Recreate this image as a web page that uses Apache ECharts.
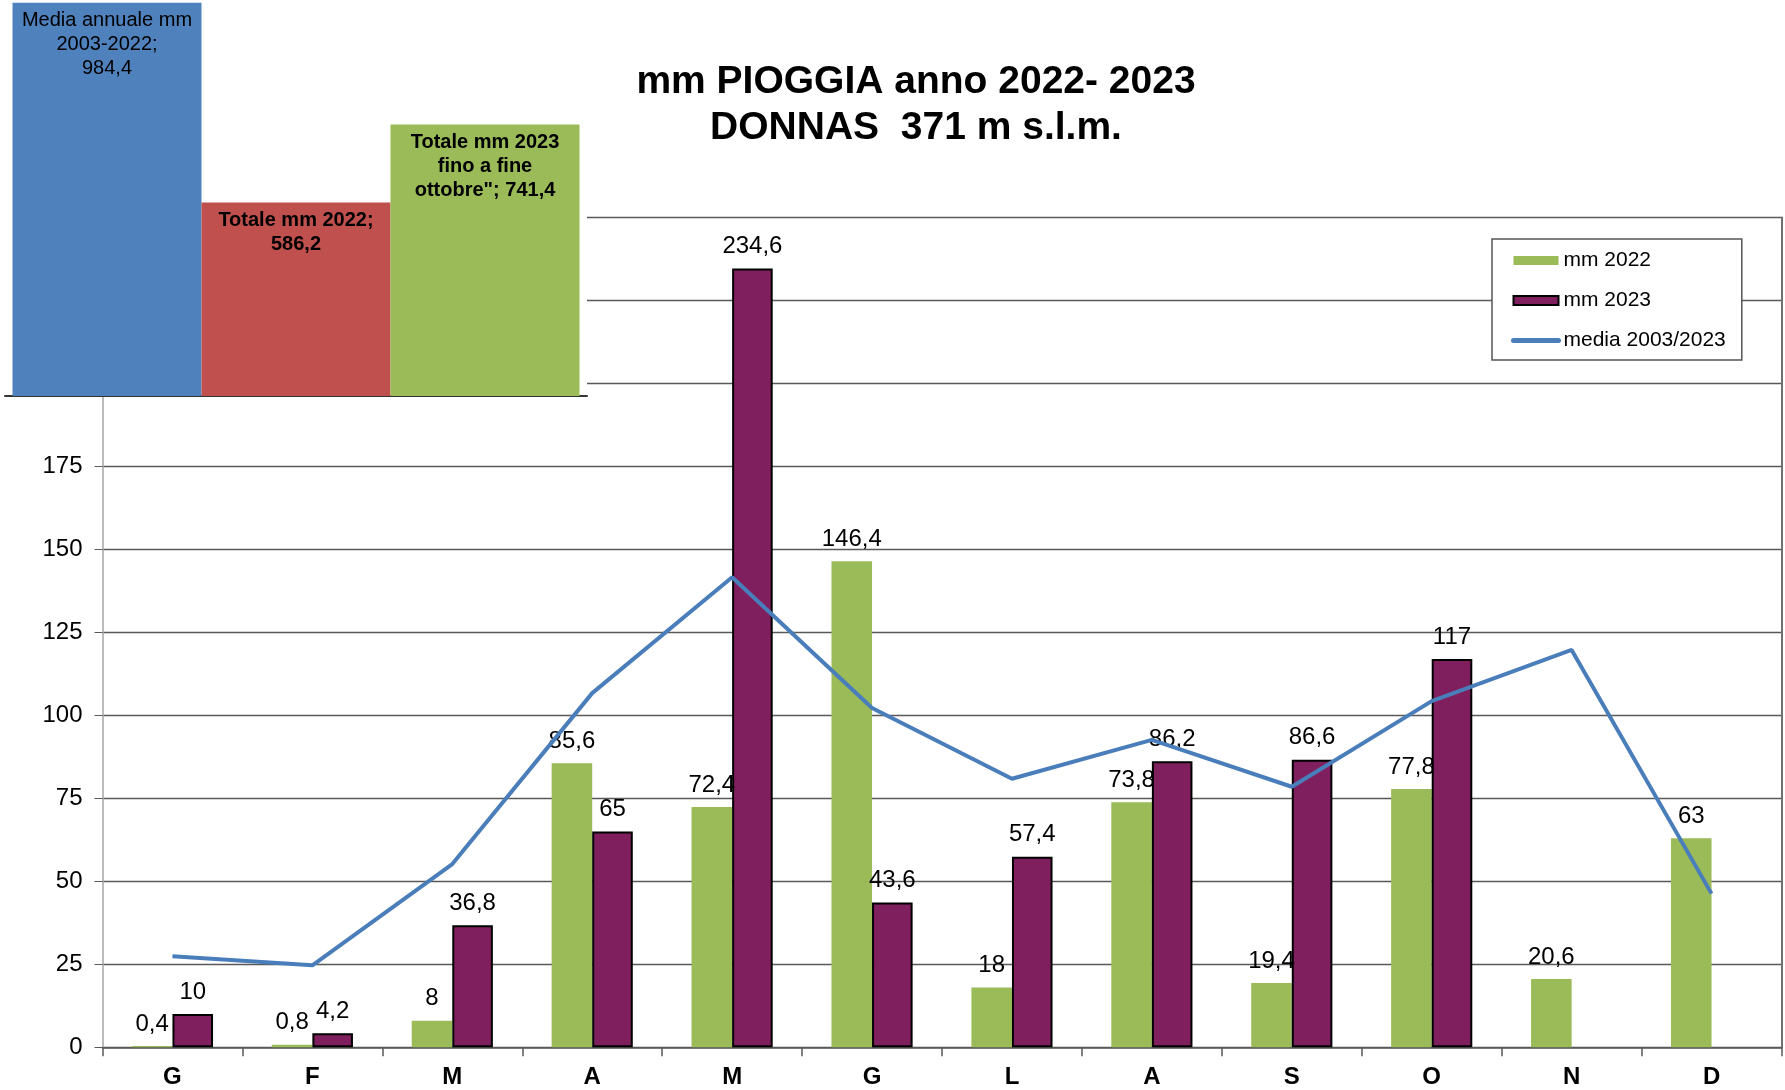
<!DOCTYPE html>
<html>
<head>
<meta charset="utf-8">
<script src="https://cdn.jsdelivr.net/npm/echarts@6/dist/echarts.min.js"></script>
<style>
  html, body { margin: 0; padding: 0; background: #fff; }
  #chart { width: 1785px; height: 1090px; }
</style>
</head>
<body>
<div id="chart"></div>
<script>
// months (Italian initials)
const months = ['G', 'F', 'M', 'A', 'M', 'G', 'L', 'A', 'S', 'O', 'N', 'D'];
const mm2022 = [0.4, 0.8, 8, 85.6, 72.4, 146.4, 18, 73.8, 19.4, 77.8, 20.6, 63];
const mm2023 = [10, 4.2, 36.8, 65, 234.6, 43.6, 57.4, 86.2, 86.6, 117, null, null];
const media = [27.4, 24.7, 55.2, 106.7, 141.6, 102.2, 80.9, 92.6, 78.5, 104.3, 119.7, 46.3];

// small inset: yearly totals
const totalNames = ['Media annuale mm\n2003-2022', 'Totale mm 2022', 'Totale mm 2023\nfino a fine\nottobre"'];
const totalValues = [984.4, 586.2, 741.4];
const totalSeps = [';\n', ';\n', '; '];
const totalColors = ['#4f81bd', '#c0504d', '#9bbb59'];
const totalBold = [false, true, true];

const FONT = '"Liberation Sans", Arial, sans-serif';
const comma = (v) => String(v).replace('.', ',');

const chart = echarts.init(document.getElementById('chart'));

const insetSeries = totalValues.map((v, i) => ({
  type: 'bar',
  name: totalNames[i],
  xAxisIndex: 1,
  yAxisIndex: 2,
  data: [v],
  barWidth: 189,
  barGap: '0%',
  z: 22,
  itemStyle: { color: totalColors[i] },
  label: {
    show: true,
    position: 'insideTop',
    distance: 6,
    color: '#000',
    fontFamily: FONT,
    fontSize: 20,
    lineHeight: 24,
    fontWeight: totalBold[i] ? 'bold' : 'normal',
    formatter: () => totalNames[i] + totalSeps[i] + comma(v),
  },
}));

chart.setOption({
  animation: false,
  backgroundColor: '#fff',
  textStyle: { fontFamily: FONT },
  title: {
    text: 'mm PIOGGIA anno 2022- 2023\nDONNAS  371 m s.l.m.',
    left: 911,
    top: 54,
    textAlign: 'center',
    textStyle: { fontSize: 39, fontWeight: 'bold', color: '#000', lineHeight: 46, fontFamily: FONT },
  },
  legend: {
    orient: 'vertical',
    left: 1492,
    top: 239,
    data: [
      { name: 'mm 2022', icon: 'rect' },
      { name: 'mm 2023', icon: 'rect' },
      { name: 'media 2003/2023', itemStyle: { opacity: 0 }, lineStyle: { width: 5, cap: 'round' } },
    ],
    backgroundColor: '#fff',
    borderColor: '#555',
    borderWidth: 1.5,
    padding: [11, 16, 9, 19],
    itemWidth: 45,
    itemHeight: 9,
    itemGap: 19,
    textStyle: { fontSize: 21, color: '#000', fontFamily: FONT },
    z: 30,
  },
  grid: [
    { left: 102.5, right: 3.5, top: 217.5, bottom: 42.7 },
    { left: 5, width: 582, top: 0, height: 396, show: true, backgroundColor: '#fff', borderWidth: 0, z: 20 },
  ],
  xAxis: [
    {
      type: 'category',
      gridIndex: 0,
      data: months,
      axisLine: { lineStyle: { color: '#595959', width: 1.5 } },
      axisTick: { show: true, length: 9, lineStyle: { color: '#595959', width: 1.5 } },
      axisLabel: { margin: 18, fontSize: 24, fontWeight: 'bold', color: '#000', fontFamily: FONT },
    },
    {
      type: 'category',
      gridIndex: 1,
      data: [''],
      z: 22,
      axisLine: { lineStyle: { color: '#333', width: 2 } },
      axisTick: { show: false },
      axisLabel: { show: false },
    },
  ],
  yAxis: [
    {
      type: 'value',
      gridIndex: 0,
      min: 0,
      max: 250,
      interval: 25,
      axisLine: { show: true, lineStyle: { color: '#a6a6a6', width: 1.5 } },
      axisTick: { show: true, length: 8, lineStyle: { color: '#595959' } },
      axisLabel: { margin: 20, fontSize: 24, color: '#000', fontFamily: FONT },
      splitLine: { lineStyle: { color: '#595959', width: 1.3 } },
    },
    {
      type: 'value',
      gridIndex: 0,
      position: 'right',
      min: 0,
      max: 250,
      interval: 25,
      axisLine: { show: true, lineStyle: { color: '#707070', width: 2 } },
      axisTick: { show: false },
      axisLabel: { show: false },
      splitLine: { show: false },
    },
    {
      type: 'value',
      gridIndex: 1,
      min: 200,
      max: 990,
      show: false,
    },
  ],
  series: [
    {
      name: 'mm 2022',
      type: 'bar',
      data: mm2022,
      barGap: '0%',
      barCategoryGap: '42%',
      itemStyle: { color: '#9bbb59' },
      label: {
        show: true,
        position: 'top',
        distance: 10,
        fontSize: 24,
        color: '#000',
        fontFamily: FONT,
        formatter: (p) => comma(p.value),
      },
    },
    {
      name: 'mm 2023',
      type: 'bar',
      data: mm2023,
      barGap: '0%',
      barCategoryGap: '42%',
      itemStyle: { color: '#7f1f5e', borderColor: '#000', borderWidth: 2 },
      label: {
        show: true,
        position: 'top',
        distance: 10,
        fontSize: 24,
        color: '#000',
        fontFamily: FONT,
        formatter: (p) => (p.value == null ? '' : comma(p.value)),
      },
    },
    {
      name: 'media 2003/2023',
      type: 'line',
      data: media,
      symbol: 'none',
      z: 5,
      lineStyle: { color: '#4a7ebb', width: 4 },
      itemStyle: { color: '#4a7ebb' },
    },
    ...insetSeries,
  ],
});
</script>
</body>
</html>
